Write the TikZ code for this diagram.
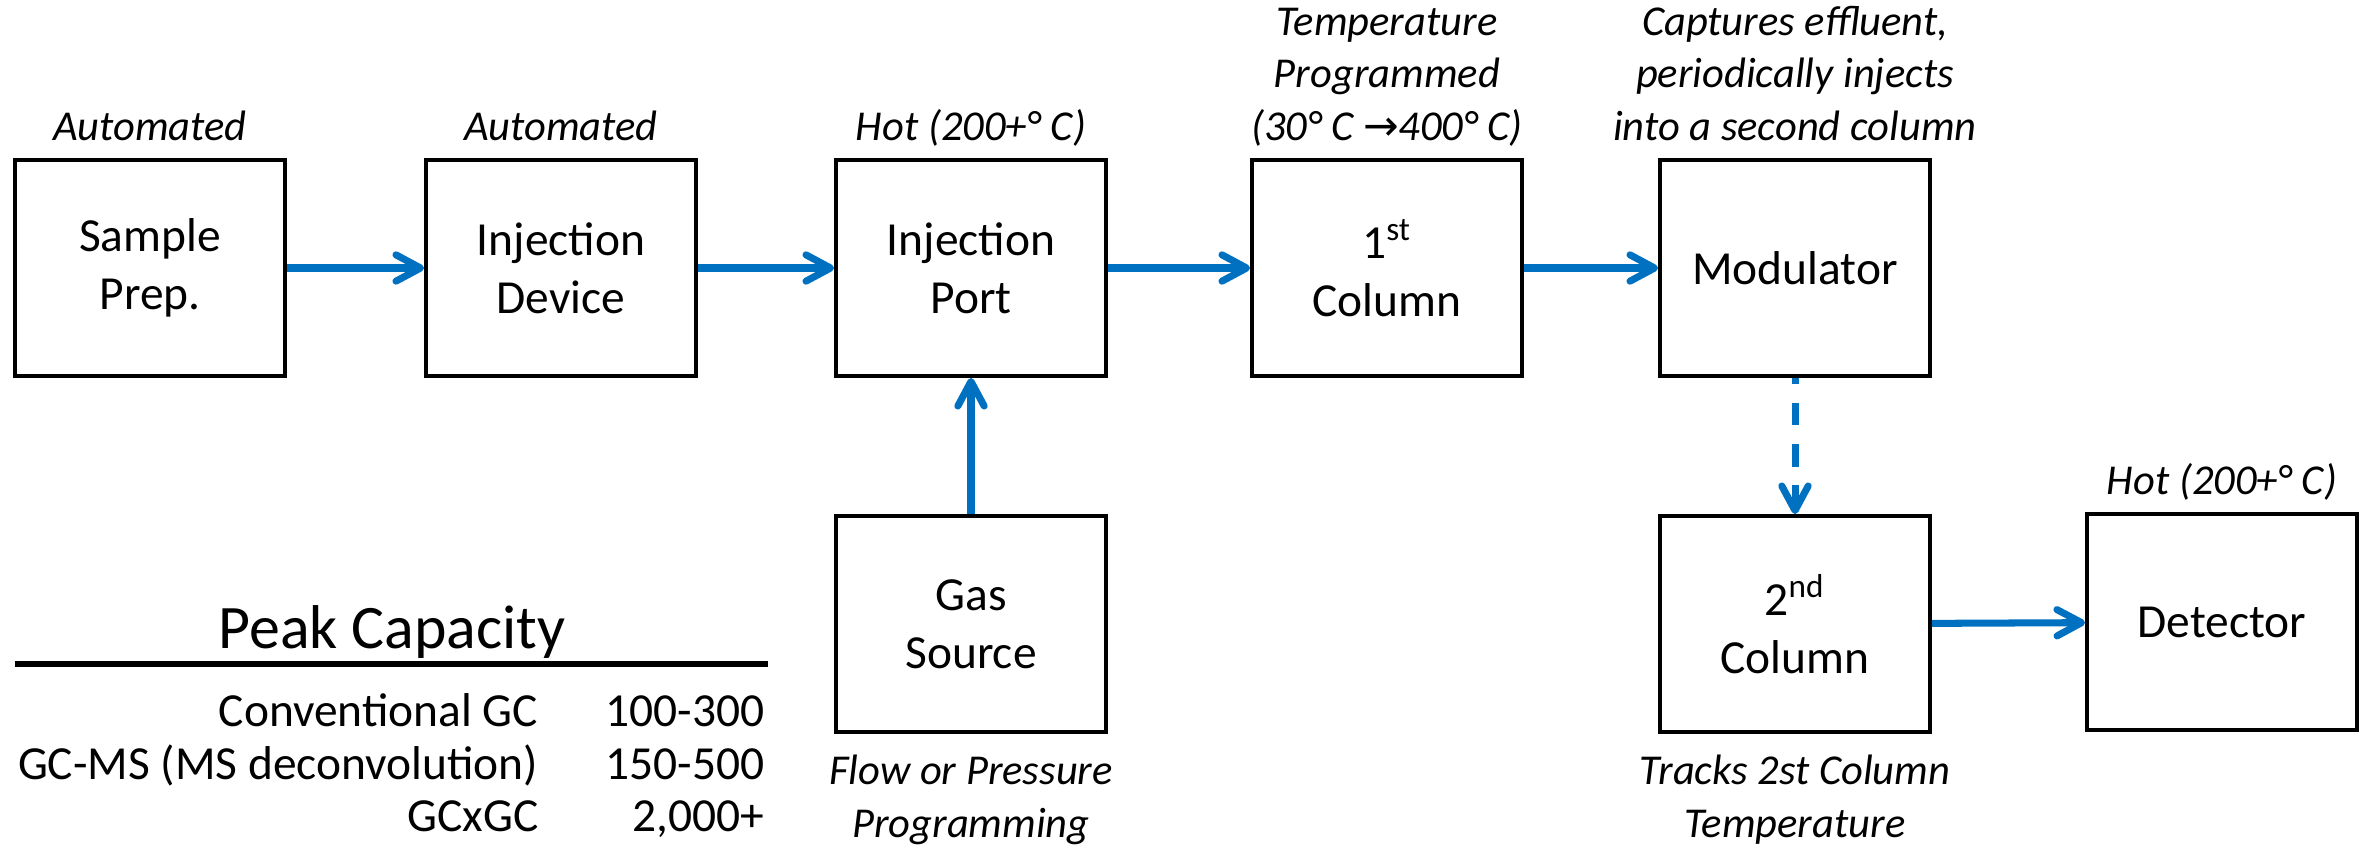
\documentclass[tikz,border=0pt]{standalone}
\usepackage{fontspec}
\setmainfont{Carlito}
\newfontfamily\arrowfont{DejaVu Sans}
\usepackage{tikz}
\usetikzlibrary{arrows.meta,positioning}
\definecolor{flowblue}{HTML}{0070C0}
\newcommand{\unitfont}{\fontsize{13.5pt}{16.5pt}\selectfont}
\newcommand{\notefont}{\fontsize{12.1pt}{14.8pt}\selectfont\itshape}

\begin{document}
\begin{tikzpicture}[x=0.1mm, y=-0.1mm,
    unit/.style={draw, line width=1.1pt, minimum width=2.7cm, minimum height=2.16cm,
      inner sep=0, align=center, font=\unitfont},
    note/.style={inner sep=0, align=center, font=\notefont},
    row/.style={inner sep=0, anchor=base east, font=\unitfont},
    flow/.style={draw=flowblue, line width=2pt,
      -{Straight Barb[length=7pt, width=7.5pt, round]}}]
      \useasboundingbox (0,0) rectangle (2361,850);
      % Main line of units
      \node[unit] (sample) at (150,268) {Sample\\Prep.};
      \node[unit] (device) at (561,268) {Injection\\Device};
      \node[unit] (port) at (971,268) {Injection\\Port};
      \node[unit] (colA) at (1387,268) {1\textsuperscript{st}\\Column};
      \node[unit] (modul) at (1795,268) {Modulator};
      % Lower units
      \node[unit] (gas) at (971,624) {Gas\\Source};
      \node[unit] (colB) at (1795,624) {2\textsuperscript{nd}\\Column};
      \node[unit] (detect) at (2222,622) {Detector};
      % Notes above (base = last line)
      \node[note, anchor=base] (noteA) at (150,140) {Automated};
      \node[note, anchor=base] (noteB) at (561,140) {Automated};
      \node[note, anchor=base] (noteC) at (971,140) {Hot (200+° C)};
      \node[note, anchor=base] (noteD) at (1387,140) {Temperature\\Programmed\\(30° C {\arrowfont →}400° C)};
      \node[note, anchor=base] (noteE) at (1795,140) {Captures effluent,\\periodically injects\\into a second column};
      \node[note, anchor=base] (noteF) at (2222,494) {Hot (200+° C)};
      % Notes below
      \node[note, anchor=base] (noteG) at (971,837) {Flow or Pressure\\Programming};
      \node[note, anchor=base] (noteH) at (1795,837) {Tracks 2st Column\\Temperature};
      % Flow arrows
      \draw[flow] (sample) -- (device);
      \draw[flow] (device) -- (port);
      \draw[flow] (port) -- (colA);
      \draw[flow] (colA) -- (modul);
      \draw[flow] (gas) -- (port);
      \draw[flow, dash pattern=on 6.3pt off 5.4pt, dash phase=4.5pt] (modul) -- (colB);
      \draw[flow] (colB) -- (detect);
      % Peak capacity table
      \node[inner sep=0, anchor=base, font=\fontsize{17.6pt}{20pt}\selectfont] (peak) at (392,648) {Peak Capacity};
      \coordinate (ruleL) at (15,664);
      \coordinate (ruleR) at (768,664);
      \draw[line width=1.7pt] (ruleL) -- (ruleR);
      \node[row] (convA) at (539,726) {Conventional GC};
      \node[row] (convB) at (765,726) {100-300};
      \node[row] (msA) at (539,779) {GC-MS (MS deconvolution)};
      \node[row] (msB) at (765,779) {150-500};
      \node[row] (gcgcA) at (539,831) {GCxGC};
      \node[row] (gcgcB) at (765,831) {2,000+};
    \end{tikzpicture}
\end{document}
